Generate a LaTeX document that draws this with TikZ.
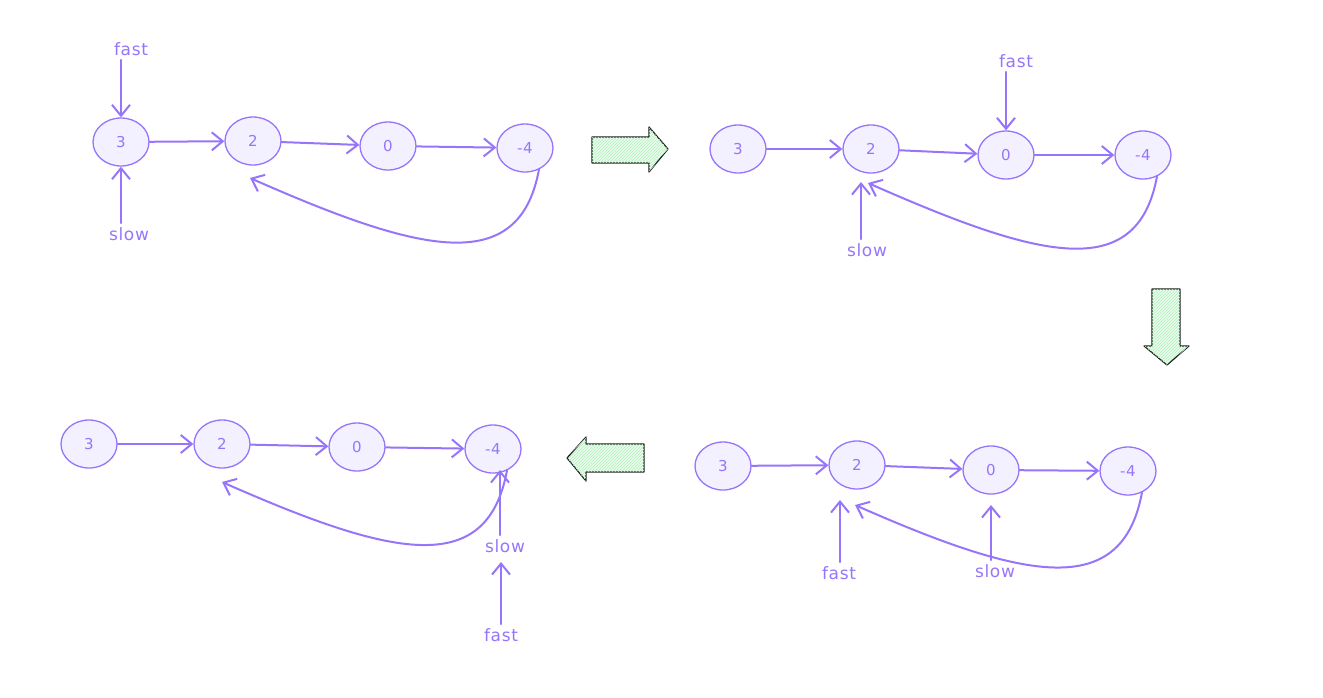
\documentclass[tikz,border=0pt]{standalone}
\usepackage{fontspec}
\setmainfont{DejaVu Sans}[LetterSpace=4]
\usetikzlibrary{shapes.geometric,arrows.meta,patterns,calc}
\definecolor{vio}{HTML}{9775FA}
\definecolor{vfill}{HTML}{F3F0FF}
\definecolor{gfill}{HTML}{EBFBEE}
\definecolor{ghatch}{HTML}{B2F2BB}
\definecolor{ink}{HTML}{1E1E1E}
\begin{document}
\begin{tikzpicture}[x=1pt,y=-1pt,
  lnode/.style={ellipse, draw=vio, fill=vfill, line width=1.3pt, minimum width=56pt, minimum height=48pt, inner sep=0pt, text=vio, font=\fontsize{15}{15}\selectfont},
  lbl/.style={text=vio, font=\fontsize{17}{17}\selectfont, inner sep=1pt},
  edge/.style={draw=vio, line width=2pt, line cap=round, -{Straight Barb[length=11pt,width=18pt]}},
  bigarrow/.style={draw=ink, line width=1.2pt, line join=round, fill=gfill, postaction={pattern=north east lines, pattern color=ghatch}}]
\useasboundingbox (0,0) rectangle (1323,697);

% ---------- panel 1 ----------
\node[lnode] (a1) at (121,142) {3};
\node[lnode] (b1) at (253,141) {2};
\node[lnode] (c1) at (388,146) {0};
\node[lnode] (d1) at (525,148) {-4};
\node[lbl] (f1) at (131,49) {fast};
\node[lbl] (s1) at (129,234) {slow};
\coordinate (e1) at (250,178);
\draw[edge] (a1) -- (b1);
\draw[edge] (b1) -- (c1);
\draw[edge] (c1) -- (d1);
\draw[edge] ([yshift=-3pt]f1.south -| a1) -- (a1);
\draw[edge] ([yshift=3pt]s1.north -| a1) -- (a1);
\draw[edge] (d1.-57) .. controls +(-20,108) and +(170,75) .. (e1);

% ---------- arrow right ----------
\draw[bigarrow] (592,137) -- (649,137) -- (649,127) -- (668,149) -- (649,172) -- (649,163) -- (592,163) -- cycle;

% ---------- panel 2 ----------
\node[lnode] (a2) at (738,149) {3};
\node[lnode] (b2) at (871,149) {2};
\node[lnode] (c2) at (1006,155) {0};
\node[lnode] (d2) at (1143,155) {-4};
\node[lbl] (f2) at (1016,61) {fast};
\node[lbl] (s2) at (867,250) {slow};
\coordinate (e2) at (868,183);
\coordinate (t2) at (861,182);
\draw[edge] (a2) -- (b2);
\draw[edge] (b2) -- (c2);
\draw[edge] (c2) -- (d2);
\draw[edge] ([yshift=-3pt]f2.south -| c2) -- (c2);
\draw[edge] ([yshift=3pt]s2.north -| t2) -- (t2);
\draw[edge] (d2.-57) .. controls +(-20,108) and +(170,75) .. (e2);

% ---------- arrow down ----------
\draw[bigarrow] (1152,289) -- (1180,289) -- (1180,346) -- (1189,346) -- (1167,365) -- (1144,346) -- (1152,346) -- cycle;

% ---------- panel 3 ----------
\node[lnode] (a3) at (723,466) {3};
\node[lnode] (b3) at (857,465) {2};
\node[lnode] (c3) at (991,470) {0};
\node[lnode] (d3) at (1128,471) {-4};
\node[lbl] (f3) at (839,573) {fast};
\node[lbl] (s3) at (995,571) {slow};
\coordinate (e3) at (855,505);
\coordinate (t3f) at (840,500);
\coordinate (t3s) at (991,505);
\draw[edge] (a3) -- (b3);
\draw[edge] (b3) -- (c3);
\draw[edge] (c3) -- (d3);
\draw[edge] ([yshift=3pt]f3.north -| t3f) -- (t3f);
\draw[edge] ([yshift=3pt]s3.north -| t3s) -- (t3s);
\draw[edge] (d3.-57) .. controls +(-20,108) and +(170,75) .. (e3);

% ---------- arrow left ----------
\draw[bigarrow] (644,444) -- (586,444) -- (586,437) -- (567,458) -- (586,481) -- (586,472) -- (644,472) -- cycle;

% ---------- panel 4 ----------
\node[lnode] (a4) at (89,444) {3};
\node[lnode] (b4) at (222,444) {2};
\node[lnode] (c4) at (357,447) {0};
\node[lnode] (d4) at (493,449) {-4};
\node[lbl] (s4) at (505,546) {slow};
\node[lbl] (f4) at (501,635) {fast};
\coordinate (e4) at (222,482);
\coordinate (t4) at (500,470);
\coordinate (t4f) at (501,562);
\draw[edge] (a4) -- (b4);
\draw[edge] (b4) -- (c4);
\draw[edge] (c4) -- (d4);
\draw[edge] ([yshift=3pt]s4.north -| t4) -- (t4);
\draw[edge] ([yshift=3pt]f4.north -| t4f) -- (t4f);
\draw[edge] (d4.-57) .. controls +(-20,108) and +(170,75) .. (e4);
\end{tikzpicture}
\end{document}
